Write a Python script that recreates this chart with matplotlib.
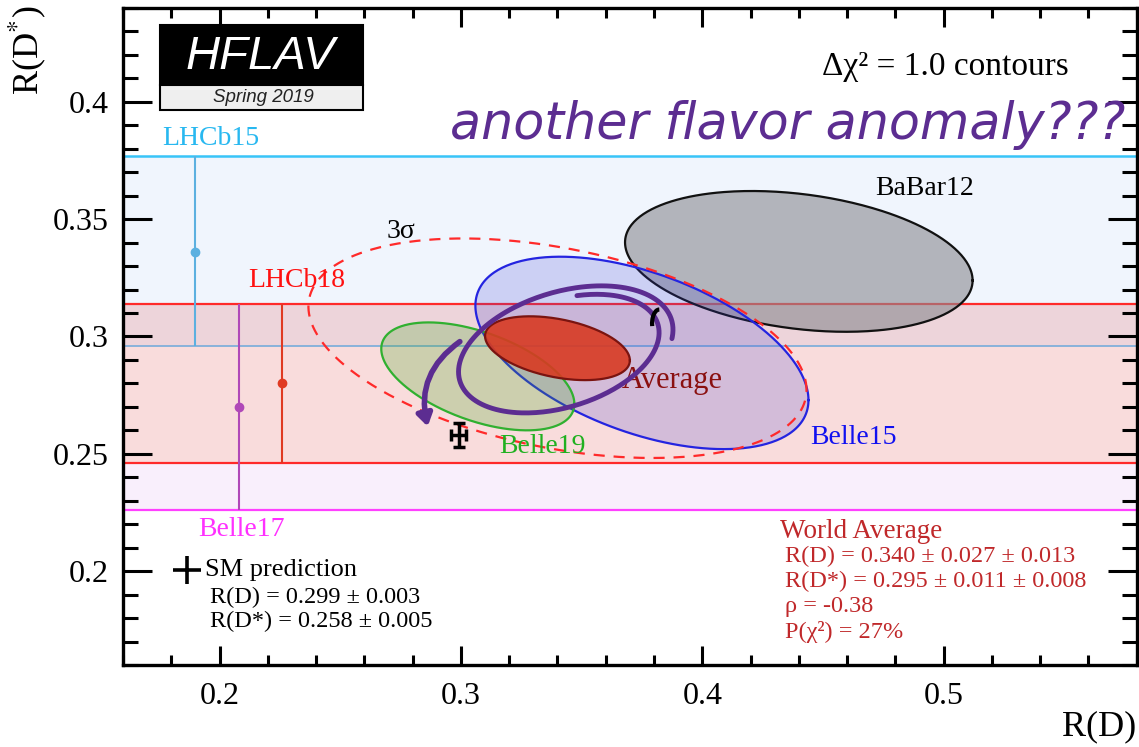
import numpy as np
import matplotlib.pyplot as plt
from matplotlib.patches import Rectangle, Arc
from matplotlib.ticker import MultipleLocator

plt.rcParams['font.family'] = ['Liberation Serif', 'DejaVu Serif']
plt.rcParams['mathtext.fontset'] = 'stix'

# R(D*)-only measurements, drawn as horizontal bands
band_names = ['LHCb15', 'LHCb18', 'Belle17']
band_values = [0.336, 0.280, 0.270]
band_low = [0.296, 0.246, 0.226]
band_high = [0.377, 0.314, 0.314]
band_x = [0.190, 0.226, 0.208]

# 2D measurements: R(D), R(D*), total errors, correlation
ell_names = ['BaBar12', 'Belle15', 'Belle19', 'Average']
ell_rd = [0.440, 0.375, 0.307, 0.340]
ell_rds = [0.332, 0.293, 0.283, 0.295]
ell_err_rd = [0.072, 0.069, 0.040, 0.030]
ell_err_rds = [0.030, 0.041, 0.023, 0.0136]
ell_rho = [-0.27, -0.49, -0.51, -0.38]

# Standard Model prediction
sm_rd, sm_rd_err = 0.299, 0.003
sm_rds, sm_rds_err = 0.258, 0.005

dchi2_3sigma = 11.83


def contour(x0, y0, sx, sy, rho, dchi2=1.0):
    cov = np.array([[sx**2, rho*sx*sy], [rho*sx*sy, sy**2]])
    L = np.linalg.cholesky(cov)
    t = np.linspace(0, 2*np.pi, 400)
    p = L @ np.vstack([np.cos(t), np.sin(t)]) * np.sqrt(dchi2)
    return x0 + p[0], y0 + p[1]


fig = plt.figure(figsize=(11.39, 7.47), dpi=100)
ax = fig.add_axes([0.108, 0.1098, 0.890, 0.8795])
ax.set_xlim(0.16, 0.58)
ax.set_ylim(0.16, 0.44)

# bands
ax.axhspan(band_low[0], band_high[0], color='#f0f5fd', lw=0, zorder=0)
ax.axhspan(band_low[2], band_high[2], color='#c050e0', alpha=0.09, lw=0, zorder=0.5)
ax.axhspan(band_low[1], band_high[1], color='#ff6205', alpha=0.13, lw=0, zorder=0.6)

ax.axhline(band_high[0], color='#38c4f8', lw=1.8, zorder=2)
ax.axhline(band_low[0], color='#88b2da', lw=1.4, zorder=2)
ax.axhline(band_high[1], color='#ff2a2a', lw=1.6, zorder=2)
ax.axhline(band_low[1], color='#ff2a2a', lw=1.6, zorder=2)
ax.axhline(band_low[2], color='#ff40ff', lw=1.6, zorder=2)

bar_colors = ['#5cb0e0', '#e03a22', '#b048b8']
for v, lo, hi, x, c in zip(band_values, band_low, band_high, band_x, bar_colors):
    ax.errorbar([x], [v], yerr=[[v - lo], [hi - v]], fmt='o', color=c,
                ms=6, elinewidth=1.5, capsize=0, zorder=3)

# 2D contours
fills = ['#8a8a90', '#3c3cd0', '#46aa28', '#d83a22']
fill_alpha = [0.6, 0.2, 0.25, 0.9]
edges = ['#111111', '#2424e0', '#30b030', '#7a1410']
for i in range(len(ell_names)):
    x, y = contour(ell_rd[i], ell_rds[i], ell_err_rd[i], ell_err_rds[i], ell_rho[i])
    ax.fill(x, y, color=fills[i], alpha=fill_alpha[i], lw=0, zorder=4 + i)
    ax.plot(x, y, color=edges[i], lw=1.6, zorder=4 + i)

x3, y3 = contour(ell_rd[3], ell_rds[3], ell_err_rd[3], ell_err_rds[3], ell_rho[3],
                 dchi2_3sigma)
ax.plot(x3, y3, color='#ff2a2a', lw=1.6, ls=(0, (5, 4)), zorder=9)

ax.errorbar([sm_rd], [sm_rds], xerr=[sm_rd_err], yerr=[sm_rds_err], fmt='none',
            ecolor='black', elinewidth=2.5, capsize=4, capthick=2.5, zorder=10)

# labels
lab = dict(fontsize=20, va='center', ha='left', zorder=12)
ax.text(0.1761, 0.3844, 'LHCb15', color='#28b8f0', **lab)
ax.text(0.2117, 0.3237, 'LHCb18', color='#ff1010', **lab)
ax.text(0.2691, 0.3446, '3σ', color='black', **lab)
ax.text(0.4716, 0.3630, 'BaBar12', color='black', **lab)
ax.text(0.3666, 0.2814, 'Average', color='#8a1010', fontsize=22, va='center', zorder=12)
ax.text(0.4447, 0.2570, 'Belle15', color='#1010f0', **lab)
ax.text(0.3158, 0.2532, 'Belle19', color='#20b020', **lab)
ax.text(0.1910, 0.2177, 'Belle17', color='#ff30ff', **lab)

ax.text(0.4497, 0.4150, 'Δχ² = 1.0 contours', fontsize=24, va='center', zorder=12)

ax.plot([0.1864], [0.2006], marker='+', ms=20, mew=2.6, color='black', zorder=12)
ax.text(0.1939, 0.2006, 'SM prediction', fontsize=19, va='center', zorder=12)
ax.text(0.1960, 0.1886, 'R(D) = 0.299 ± 0.003', fontsize=17.5, va='center', zorder=12)
ax.text(0.1960, 0.1784, 'R(D*) = 0.258 ± 0.005', fontsize=17.5, va='center', zorder=12)

wa = '#c0282a'
ax.text(0.4323, 0.2168, 'World Average', color=wa, fontsize=19.5, va='center', zorder=12)
ax.text(0.4344, 0.2062, 'R(D) = 0.340 ± 0.027 ± 0.013', color=wa, fontsize=17.5, va='center')
ax.text(0.4344, 0.1955, 'R(D*) = 0.295 ± 0.011 ± 0.008', color=wa, fontsize=17.5, va='center')
ax.text(0.4344, 0.1848, 'ρ = -0.38', color=wa, fontsize=17.5, va='center')
ax.text(0.4344, 0.1741, 'P(χ²) = 27%', color=wa, fontsize=17.5, va='center')

# HFLAV logo
ax.add_patch(Rectangle((0.0365, 0.883), 0.2, 0.091, transform=ax.transAxes,
                       fc='black', ec='black', lw=1.5, zorder=12))
ax.add_patch(Rectangle((0.0365, 0.845), 0.2, 0.038, transform=ax.transAxes,
                       fc='#efefef', ec='black', lw=1.5, zorder=12))
ax.text(0.135, 0.926, 'HFLAV', transform=ax.transAxes, color='white', fontsize=34,
        style='italic', family='Liberation Sans', ha='center', va='center', zorder=13)
ax.text(0.138, 0.864, 'Spring 2019', transform=ax.transAxes, color='#222222',
        fontsize=13.5, style='italic', family='Liberation Sans', ha='center',
        va='center', zorder=13)

# hand-drawn note
ink = '#5c2d91'
ax.text(0.3225, 0.800, 'another flavor anomaly???', transform=ax.transAxes, color=ink,
        fontsize=36.5, style='italic', family='DejaVu Sans', ha='left', va='baseline',
        zorder=14)

# loop around the average, drawn clockwise with a small overshoot
loop_cx, loop_cy, loop_a, loop_b, loop_k = 0.342, 0.2936, 0.040, 0.0235, 0.214
t = np.linspace(0.45 * np.pi, -2.05 * np.pi, 320)
grow = np.linspace(0.97, 1.15, t.size)
lx = loop_cx + loop_a * grow * np.cos(t)
ly = loop_cy + loop_b * grow * np.sin(t) + loop_k * (lx - loop_cx)
ax.plot(lx, ly, color=ink, lw=3.5, solid_capstyle='round', zorder=14)

ax.annotate('', xy=(0.2865, 0.2605), xytext=(0.3005, 0.2985),
            arrowprops=dict(arrowstyle='-|>,head_length=0.7,head_width=0.45',
                            connectionstyle='arc3,rad=0.35', color=ink, lw=4),
            zorder=14)
ax.add_patch(Arc((0.3822, 0.3055), 0.006, 0.012, theta1=90, theta2=200,
                 color='black', lw=3, zorder=14))

# axes styling
for s in ax.spines.values():
    s.set_linewidth(2.4)
ax.xaxis.set_major_locator(MultipleLocator(0.1))
ax.xaxis.set_minor_locator(MultipleLocator(0.02))
ax.yaxis.set_major_locator(MultipleLocator(0.05))
ax.yaxis.set_minor_locator(MultipleLocator(0.01))
ax.tick_params(which='both', direction='in', top=True, right=True, labelsize=23)
ax.tick_params(axis='x', which='major', length=14, width=2.2, pad=12)
ax.tick_params(axis='x', which='minor', length=7, width=2.2)
ax.tick_params(axis='y', which='major', length=21, width=2.2, pad=10)
ax.tick_params(axis='y', which='minor', length=10.5, width=2.2)
ax.set_xticklabels([f'{v:g}' for v in ax.get_xticks()])
ax.set_yticklabels([f'{v:g}' for v in ax.get_yticks()])
ax.set_xlim(0.16, 0.58)
ax.set_ylim(0.16, 0.44)

fig.text(0.998, 0.027, 'R(D)', fontsize=26, ha='right', va='center')
fig.text(0.024, 0.993, 'R(D$^{*}$)', fontsize=26, rotation=90, ha='center', va='top')

fig.savefig('out.png', dpi=100)
